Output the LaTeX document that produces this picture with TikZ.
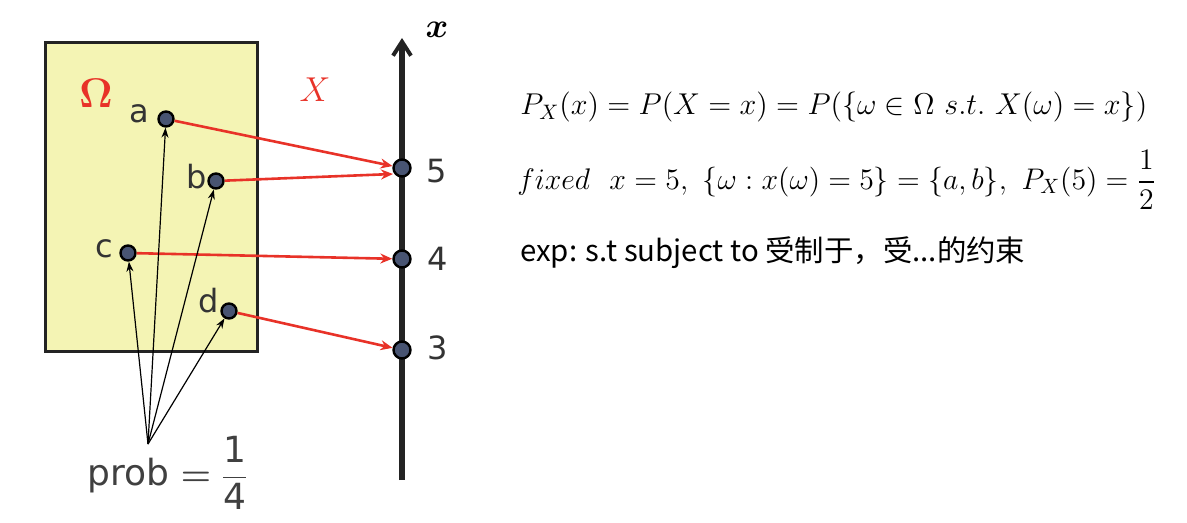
\documentclass[tikz,border=0pt]{standalone}
\usepackage{amsmath}
\usepackage{amssymb}
\usepackage{fontspec}
\setsansfont{DejaVu Sans}
\newfontfamily\cjk{Noto Sans CJK SC}
\usepackage{tikz}
\usepackage{xcolor}
\usetikzlibrary{arrows.meta}

\definecolor{omegared}{RGB}{232,50,40}
\definecolor{boxyellow}{RGB}{244,244,180}
\definecolor{dotblue}{RGB}{72,84,114}
\definecolor{axisgray}{RGB}{35,35,35}

\tikzset{
  pt/.style={circle, draw=black, fill=dotblue, line width=1.2pt, inner sep=0pt, minimum size=7.5pt},
  axispt/.style={pt, minimum size=8.5pt},
  ptlabel/.style={font=\sffamily\fontsize{16}{16}\selectfont, text=black!80},
  maparrow/.style={-{Stealth[length=6pt,width=5pt]}, draw=omegared, line width=1.3pt},
  probarrow/.style={-{Stealth[length=5pt,width=3.5pt]}, line width=0.6pt},
  formula/.style={anchor=west, font=\fontsize{14.4}{17}\selectfont}
}

\begin{document}
\begin{tikzpicture}[x=0.5pt, y=-0.5pt]
\useasboundingbox (0,0) rectangle (1187,523);

% sample space
\draw[fill=boxyellow, draw=axisgray, line width=1.5pt] (45,43) rectangle (257,351);
\node[text=omegared, font=\fontsize{20.74}{22}\selectfont] at (96,93) {$\boldsymbol{\Omega}$};
\node[text=omegared, font=\fontsize{17.28}{18}\selectfont] at (315,90) {$X$};

\node[pt] (a) at (166,119) {};
\node[pt] (b) at (216,181) {};
\node[pt] (c) at (128,253) {};
\node[pt] (d) at (229,311) {};
\node[ptlabel] at (139,114) {a};
\node[ptlabel] at (197,177) {b};
\node[ptlabel] at (104,249) {c};
\node[ptlabel] at (209,301) {d};

% real line
\draw[-{Straight Barb[length=7pt,width=9pt,line width=2pt]}, draw=axisgray, line width=3pt]
  (402,480) coordinate (bot) -- (402,38) coordinate (top);
\node[font=\fontsize{17.28}{18}\selectfont] at (437,30) {$\boldsymbol{x}$};
\node[axispt] (five) at (402,168) {};
\node[axispt] (four) at (402,259) {};
\node[axispt] (three) at (402,350) {};
\node[ptlabel] at (437,171) {5};
\node[ptlabel] at (438,259) {4};
\node[ptlabel] at (438,348) {3};
\coordinate (fiveb) at (393,174);

% mapping X
\draw[maparrow] (a) -- (five);
\draw[maparrow] (b) -- (fiveb);
\draw[maparrow] (c) -- (four);
\draw[maparrow] (d) -- (three);

% probabilities
\coordinate (apex) at (148,444);
\foreach \p in {a,b,c,d}
  \draw[probarrow] (apex) -- (\p);
\node[ptlabel, text=black!75, font=\sffamily\fontsize{18}{18}\selectfont] (prob) at (168,473)
  {prob $\boldsymbol{=}\dfrac{\text{1}}{\text{4}}$};

% formulas
\node[formula, scale=1.045] (f1) at (513,107) {$P_X(x)=P(X=x)=P(\{\omega\in\Omega\ s.t.\ X(\omega)=x\})$};
\node[formula, scale=1.035] (f2) at (510,180) {$fixed\ \ x=5,\ \{\omega:x(\omega)=5\}=\{a,b\},\ P_X(5)=\dfrac{1}{2}$};
\node[formula, font=\cjk\fontsize{14.7}{17}\selectfont] (f3) at (513,253) {exp: s.t subject to 受制于，受...的约束};
\end{tikzpicture}
\end{document}
